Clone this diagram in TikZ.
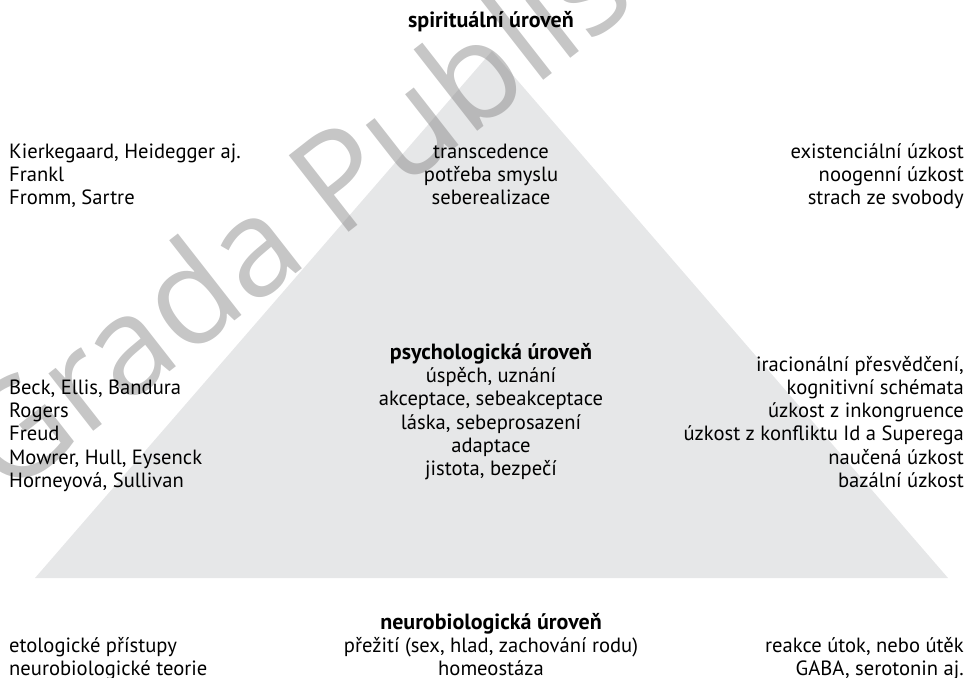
\documentclass[tikz,border=0pt]{standalone}
\usepackage{fontspec}
\setmainfont{PT Sans}
\newfontfamily\wmfont{Open Sans}
\definecolor{trigray}{HTML}{E6E7E8}
\definecolor{wmgray}{HTML}{808080}
\begin{document}
\begin{tikzpicture}[x=1pt,y=-1pt,
  txt/.style={inner sep=0pt, font=\fontsize{20.6}{23}\selectfont},
  lt/.style={txt, anchor=mid west},
  rt/.style={txt, anchor=mid east},
  ct/.style={txt, anchor=mid},
  hd/.style={txt, anchor=mid, font=\fontsize{22}{23}\selectfont\bfseries}]
\useasboundingbox (0,0) rectangle (974,677);
% pyramid
\coordinate (apex) at (492,51);
\coordinate (bl) at (35,578);
\coordinate (br) at (948,578);
\fill[trigray] (apex) -- (bl) -- (br) -- cycle;
% watermark
\node[inner sep=0pt, anchor=base west, rotate=38, text=wmgray, opacity=0.45,
  font=\fontsize{136}{136}\selectfont\wmfont] (wm) at (6,500) {Grada Publishing};
% headings
\node[hd] (h1) at (491,25) {spirituální úroveň};
\node[hd] (h2) at (491,357) {psychologická úroveň};
\node[hd] (h3) at (491,627) {neurobiologická úroveň};
% spiritual level
\node[lt] (a1) at (9,156) {Kierkegaard, Heidegger aj.};
\node[lt] (a2) at (9,179) {Frankl};
\node[lt] (a3) at (9,202) {Fromm, Sartre};
\node[ct] (b1) at (491,156) {transcedence};
\node[ct] (b2) at (491,179) {potřeba smyslu};
\node[ct] (b3) at (491,202) {seberealizace};
\node[rt] (c1) at (964,156) {existenciální úzkost};
\node[rt] (c2) at (964,179) {noogenní úzkost};
\node[rt] (c3) at (964,202) {strach ze svobody};
% psychological level
\node[lt] (d1) at (9,392) {Beck, Ellis, Bandura};
\node[lt] (d2) at (9,415) {Rogers};
\node[lt] (d3) at (9,438) {Freud};
\node[lt] (d4) at (9,462) {Mowrer, Hull, Eysenck};
\node[lt] (d5) at (9,485) {Horneyová, Sullivan};
\node[ct] (e1) at (491,380) {úspěch, uznání};
\node[ct] (e2) at (491,403) {akceptace, sebeakceptace};
\node[ct] (e3) at (491,427) {láska, sebeprosazení};
\node[ct] (e4) at (491,450) {adaptace};
\node[ct] (e5) at (491,473) {jistota, bezpečí};
\node[rt] (f1) at (964,369) {iracionální přesvědčení,};
\node[rt] (f2) at (964,392) {kognitivní schémata};
\node[rt] (f3) at (964,415) {úzkost z inkongruence};
\node[rt] (f4) at (964,438) {úzkost z konfliktu Id a Superega};
\node[rt] (f5) at (964,462) {naučená úzkost};
\node[rt] (f6) at (964,485) {bazální úzkost};
% neurobiological level
\node[lt] (g1) at (9,650) {etologické přístupy};
\node[lt] (g2) at (9,673) {neurobiologické teorie};
\node[ct] (k1) at (491,650) {přežití (sex, hlad, zachování rodu)};
\node[ct] (k2) at (491,673) {homeostáza};
\node[rt] (m1) at (964,650) {reakce útok, nebo útěk};
\node[rt] (m2) at (964,673) {GABA, serotonin aj.};
\end{tikzpicture}
\end{document}
